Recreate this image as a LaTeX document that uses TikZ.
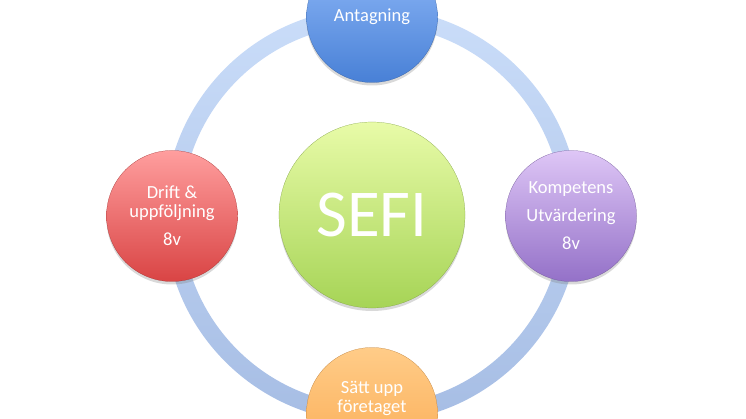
\documentclass[tikz,border=0pt]{standalone}
\usepackage{fontspec}
\setmainfont{Carlito}
\usepackage{tikz}
\usetikzlibrary{shadows}
\definecolor{ringLight}{RGB}{202, 221, 249}
\definecolor{ringDark}{RGB}{166, 189, 228}
\definecolor{sefiLight}{RGB}{232, 251, 168}
\definecolor{sefiDark}{RGB}{166, 212, 86}
\definecolor{antagLight}{RGB}{146, 187, 250}
\definecolor{antagDark}{RGB}{72, 128, 214}
\definecolor{driftLight}{RGB}{255, 158, 158}
\definecolor{driftDark}{RGB}{217, 68, 68}
\definecolor{kompLight}{RGB}{222, 198, 246}
\definecolor{kompDark}{RGB}{148, 113, 200}
\definecolor{startLight}{RGB}{255, 204, 136}
\definecolor{startDark}{RGB}{250, 168, 78}

\begin{document}
\begin{tikzpicture}[
    x = 1pt, y = -1pt,
    bubble/.style = {circle, draw=#1Dark!75!black, very thin,
        minimum size=131pt, inner sep=0pt, outer sep=0pt,
        top color=#1Light, bottom color=#1Dark,
        text=white, align=center,
        font=\fontsize{18.5}{19}\selectfont,
        drop shadow={opacity=0.3, shadow xshift=0pt, shadow yshift=-3pt}},
    ring/.style = {top color=ringLight, bottom color=ringDark, even odd rule}
  ]
  \useasboundingbox (0,0) rectangle (746,419);

  \node[bubble=sefi, minimum size=186pt, font=\fontsize{67}{67}\selectfont] (sefi) at (372,215) {SEFI};

  \shade[ring] (sefi.center) circle (207.5pt) (sefi.center) circle (190.5pt);

  \node[bubble=antag] (antagning) at (372,17) {Antagning};
  \node[bubble=drift] (drift) at (172,216) {Drift \&\\uppföljning\\[9pt]8v};
  \node[bubble=komp] (kompetens) at (571,216) {Kompetens\\[9pt]Utvärdering\\[9pt]8v};
  \node[bubble=start, text depth=33pt] (foretaget) at (372,413) {Sätt upp\\företaget};
\end{tikzpicture}
\end{document}
